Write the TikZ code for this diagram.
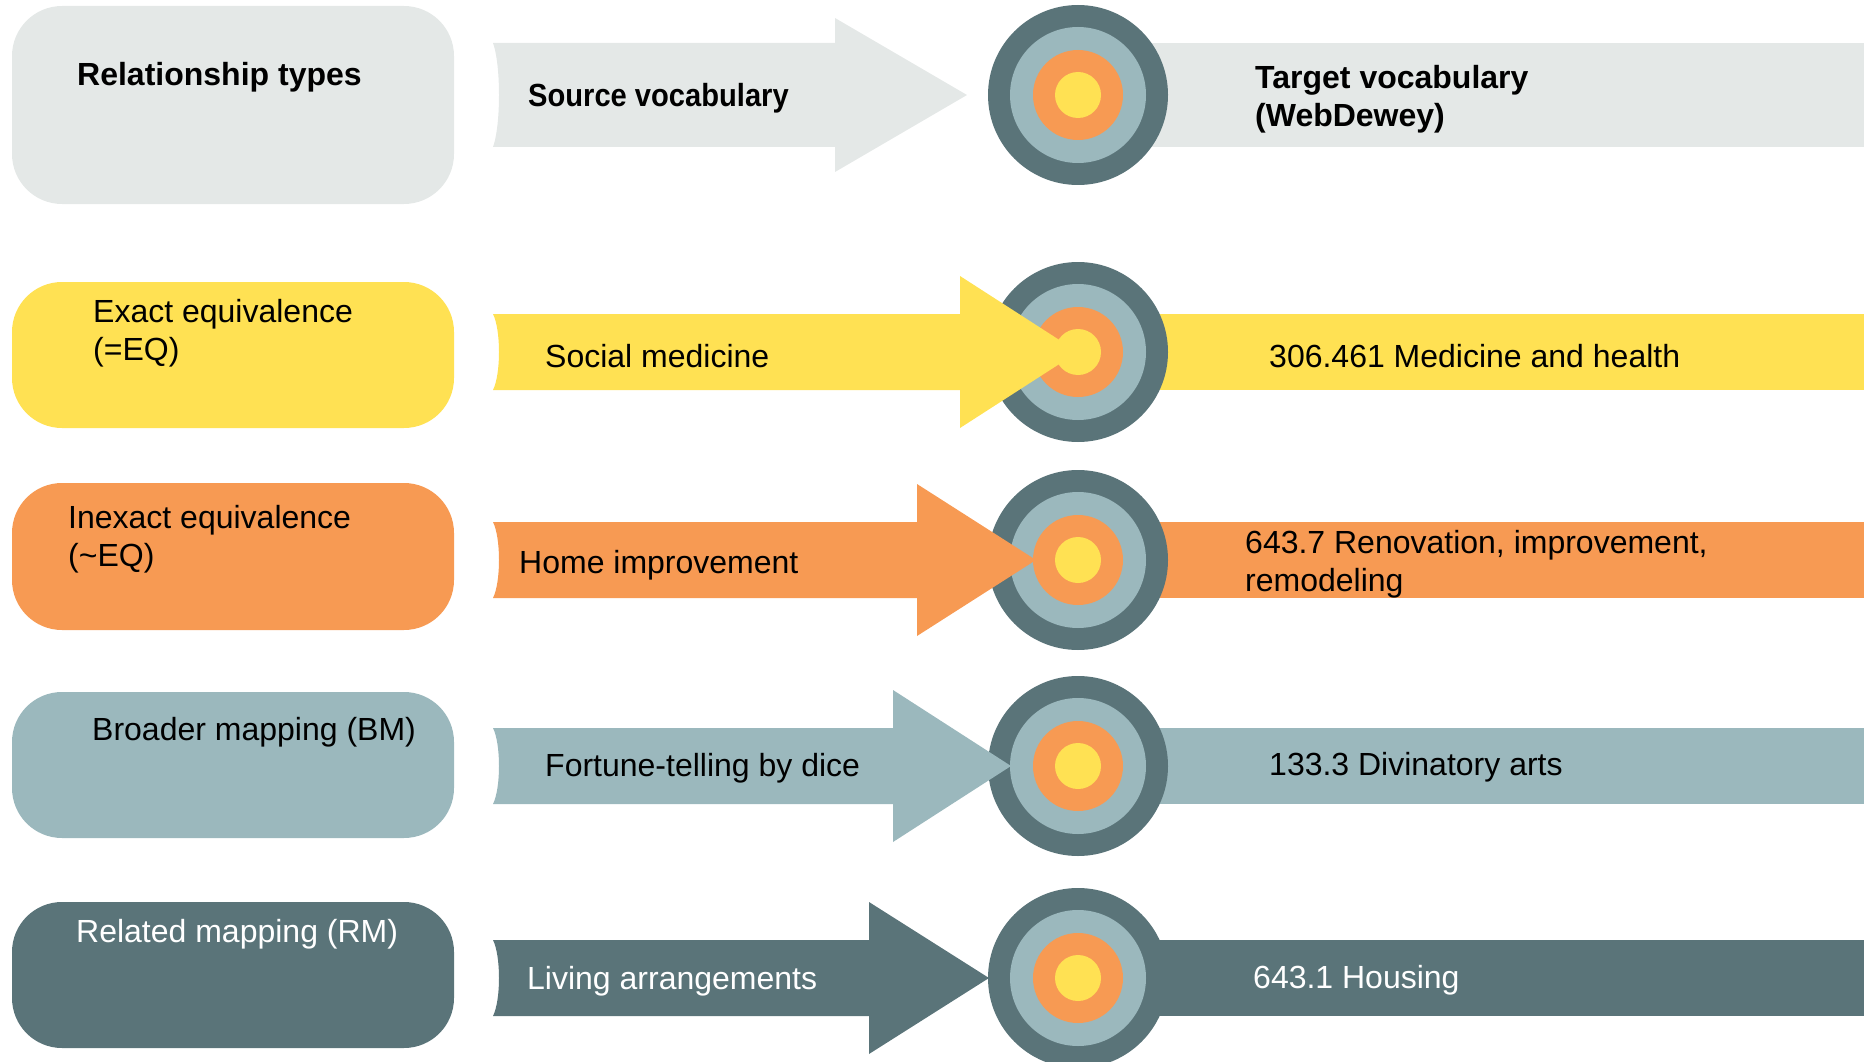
\documentclass[tikz,border=0pt]{standalone}
\usepackage{fontspec}
\setmainfont{Liberation Sans}
\usepackage{xcolor}
\usepackage{tikz}

\definecolor{relgray}{HTML}{E4E8E7}
\definecolor{relyellow}{HTML}{FFE153}
\definecolor{relorange}{HTML}{F79A53}
\definecolor{relblue}{HTML}{9BB8BD}
\definecolor{reldark}{HTML}{5A7479}

\tikzset{
	lbl/.style={inner sep=0pt, anchor=base west, align=left, font=\fontsize{32pt}{38pt}\selectfont},
	lblbold/.style={lbl, font=\fontsize{32pt}{38pt}\selectfont\bfseries},
	box/.style={rounded corners=50pt}
}

\begin{document}
\begin{tikzpicture}[x=1pt,y=-1pt]
		\useasboundingbox (0,0) rectangle (1864,1062);

		% relationship boxes
		\fill[box, relgray]   (12,6)   rectangle (454,204);
		\fill[box, relyellow] (12,282) rectangle (454,428);
		\fill[box, relorange] (12,483) rectangle (454,630);
		\fill[box, relblue]   (12,692) rectangle (454,838);
		\fill[box, reldark]   (12,902) rectangle (454,1048);

		% target bands
		\fill[relgray]   (1078,43)  rectangle (1864,147);
		\fill[relyellow] (1078,314) rectangle (1864,390);
		\fill[relorange] (1078,522) rectangle (1864,598);
		\fill[relblue]   (1078,728) rectangle (1864,804);
		\fill[reldark]   (1078,940) rectangle (1864,1016);

		% targets
		\fill[reldark] (1078,95) circle (90pt);
		\fill[relblue] (1078,95) circle (68pt);
		\fill[relorange] (1078,95) circle (45pt);
		\fill[relyellow] (1078,95) circle (23pt);

		\fill[reldark] (1078,352) circle (90pt);
		\fill[relblue] (1078,352) circle (68pt);
		\fill[relorange] (1078,352) circle (45pt);
		\fill[relyellow] (1078,352) circle (23pt);

		\fill[reldark] (1078,560) circle (90pt);
		\fill[relblue] (1078,560) circle (68pt);
		\fill[relorange] (1078,560) circle (45pt);
		\fill[relyellow] (1078,560) circle (23pt);

		\fill[reldark] (1078,766) circle (90pt);
		\fill[relblue] (1078,766) circle (68pt);
		\fill[relorange] (1078,766) circle (45pt);
		\fill[relyellow] (1078,766) circle (23pt);

		\fill[reldark] (1078,978) circle (90pt);
		\fill[relblue] (1078,978) circle (68pt);
		\fill[relorange] (1078,978) circle (45pt);
		\fill[relyellow] (1078,978) circle (23pt);

		% source arrows
		\fill[relgray] (493,43) .. controls (501,65) and (501,125) .. (493,147) -- (835,147) -- (835,172) -- (967,95) -- (835,18) -- (835,43) -- cycle;
		\fill[relyellow] (493,314) .. controls (501,330) and (501,374) .. (493,390) -- (960,390) -- (960,428) -- (1078,352) -- (960,276) -- (960,314) -- cycle;
		\fill[relorange] (493,522) .. controls (501,538) and (501,582) .. (493,598) -- (917,598) -- (917,636) -- (1036,560) -- (917,484) -- (917,522) -- cycle;
		\fill[relblue] (493,728) .. controls (501,744) and (501,788) .. (493,804) -- (893,804) -- (893,842) -- (1011,766) -- (893,690) -- (893,728) -- cycle;
		\fill[reldark] (493,940) .. controls (501,956) and (501,1000) .. (493,1016) -- (869,1016) -- (869,1054) -- (989,978) -- (869,902) -- (869,940) -- cycle;

		% labels (two-line labels sit on their last baseline)
		\node[lblbold] (reltypes) at (77,86) {Relationship types};
		\node[lblbold, xscale=0.91, transform shape] (srcvocab) at (528,107) {Source vocabulary};
		\node[lblbold] (tgtvocab) at (1255,127) {Target vocabulary\\(WebDewey)};

		\node[lbl] (exacteq) at (93,360) {Exact equivalence\\(=EQ)};
		\node[lbl] (exactsrc) at (545,367) {Social medicine};
		\node[lbl] (exacttgt) at (1269,367) {306.461 Medicine and health};

		\node[lbl] (inexacteq) at (68,566) {Inexact equivalence\\(\textasciitilde EQ)};
		\node[lbl] (inexactsrc) at (519,573) {Home improvement};
		\node[lbl] (inexacttgt) at (1245,591) {643.7 Renovation, improvement,\\remodeling};

		\node[lbl] (broadbm) at (92,740) {Broader mapping (BM)};
		\node[lbl] (broadsrc) at (545,776) {Fortune-telling by dice};
		\node[lbl] (broadtgt) at (1269,775) {133.3 Divinatory arts};

		\node[lbl, text=white] (relatedrm) at (76,942) {Related mapping (RM)};
		\node[lbl, text=white] (relatedsrc) at (527,989) {Living arrangements};
		\node[lbl, text=white] (relatedtgt) at (1253,988) {643.1 Housing};
	\end{tikzpicture}
\end{document}
